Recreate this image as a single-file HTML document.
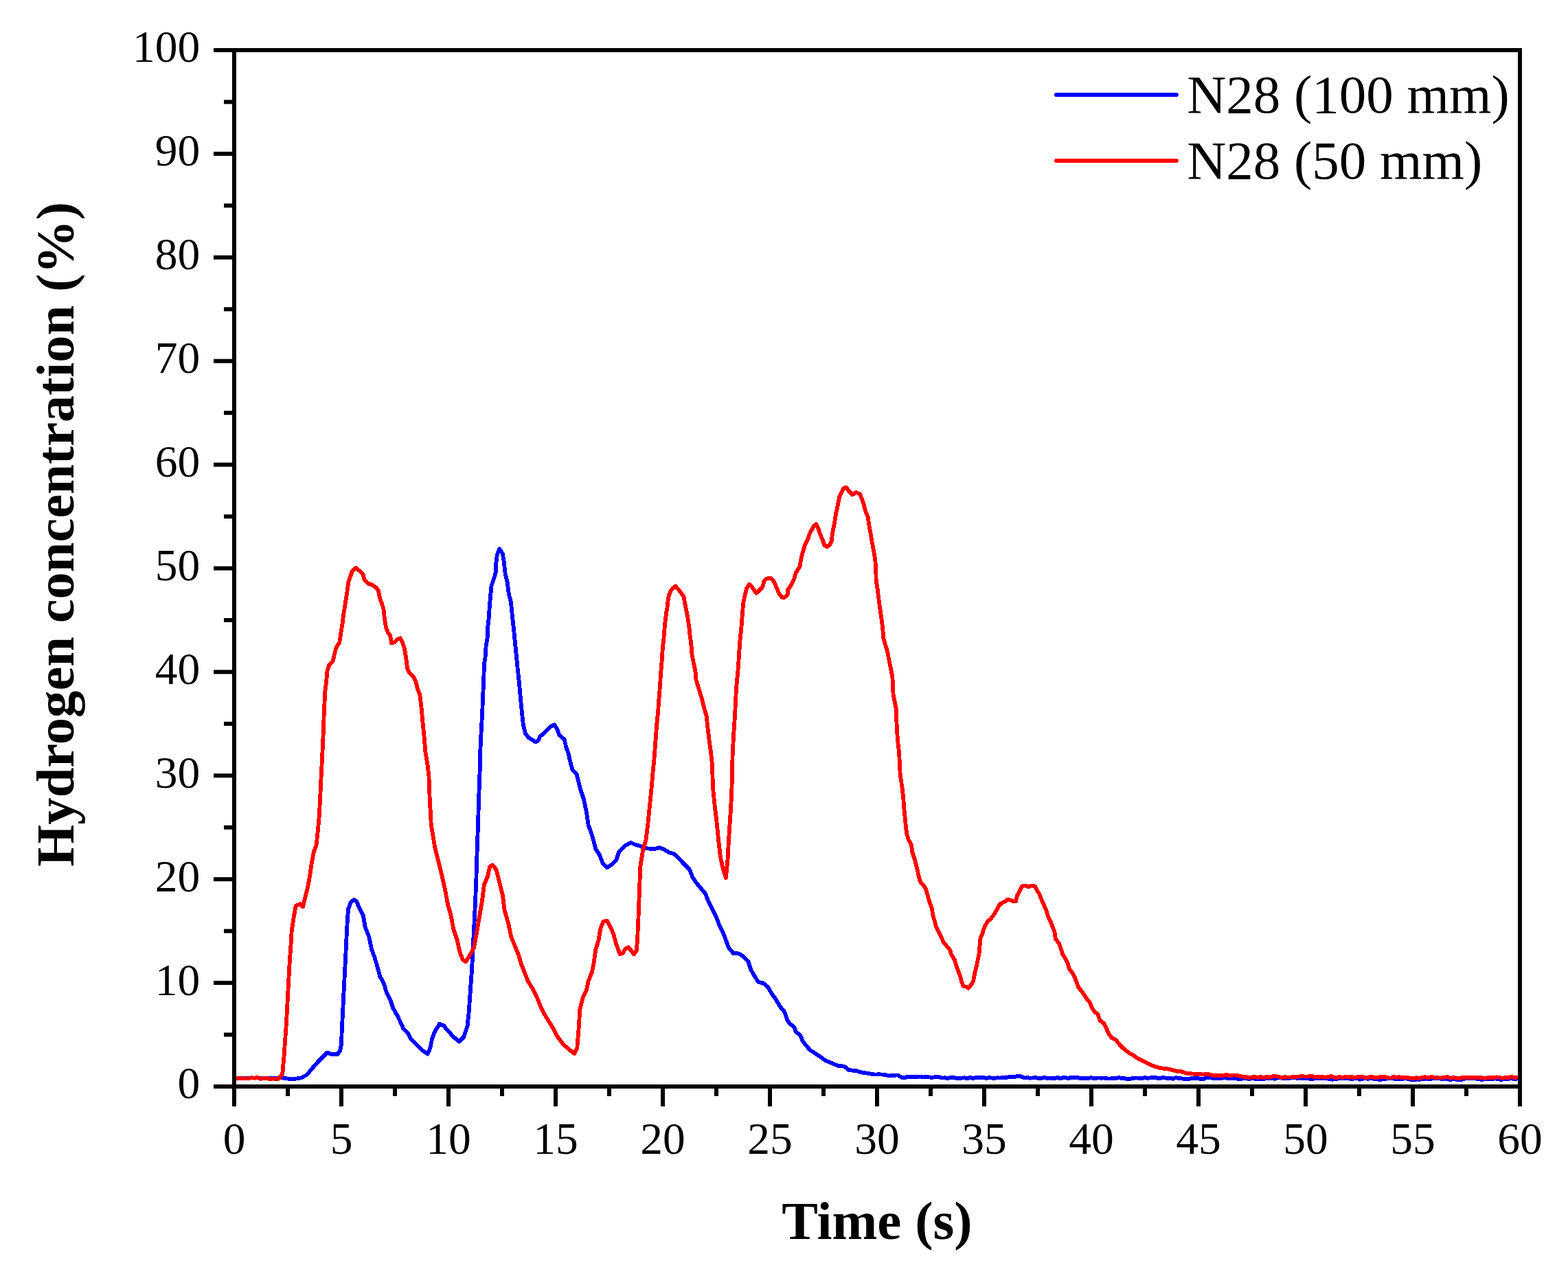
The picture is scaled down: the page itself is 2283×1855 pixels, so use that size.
<!DOCTYPE html>
<html><head><meta charset="utf-8"><title>Hydrogen concentration</title>
<style>
html,body{margin:0;padding:0;background:#fff;}
svg{display:block;}
.t{font-family:"Liberation Serif","Times New Roman",serif;font-size:65.5px;fill:#000;}
.lg{font-family:"Liberation Serif","Times New Roman",serif;font-size:79px;fill:#000;}
.ti{font-family:"Liberation Serif","Times New Roman",serif;font-weight:bold;fill:#000;}
</style></head>
<body>
<svg width="2283" height="1855" viewBox="0 0 2283 1855">
<rect width="2283" height="1855" fill="#fff"/>
<g stroke-linejoin="round" stroke-linecap="round" fill="none" stroke-width="5.8" shape-rendering="crispEdges">
<polyline stroke="#0000ff" points="340.8,1569.4 411.2,1569.4 424.7,1571.5 438.3,1569.4 446.4,1565.3 454.5,1555.8 462.6,1546.4 469.4,1539.6 476.2,1532.8 483.0,1535.0 491.1,1535.5 495.1,1530.1 497.0,1520.6 497.8,1499.0 499.2,1471.9 500.5,1444.9 501.9,1417.8 503.3,1390.7 504.6,1363.6 506.0,1336.6 507.3,1323.0 510.8,1313.6 515.4,1310.0 519.5,1312.7 522.2,1320.3 529.0,1333.9 531.7,1350.1 537.1,1363.6 541.2,1382.6 545.2,1393.4 549.3,1407.0 553.3,1421.8 558.7,1431.3 562.8,1444.9 568.2,1455.7 572.3,1467.8 577.7,1477.3 583.1,1488.2 587.2,1497.6 593.9,1504.4 598.0,1512.5 606.1,1520.6 614.2,1528.8 622.4,1534.7 626.4,1526.1 629.1,1512.5 633.2,1501.7 640.0,1490.9 646.7,1493.6 650.0,1499.0 652.2,1500.3 658.9,1508.5 668.4,1516.6 675.2,1509.8 680.6,1493.6 682.8,1471.9 684.7,1444.9 686.6,1417.8 688.2,1390.7 689.5,1363.6 690.9,1336.6 692.2,1309.5 693.3,1282.4 694.1,1255.4 695.0,1228.3 696.0,1201.2 696.8,1174.1 697.7,1147.1 698.7,1120.0 698.9,1102.6 699.9,1080.5 700.9,1060.3 702.1,1040.1 702.9,1020.0 703.7,1001.8 704.5,981.7 704.9,967.5 706.5,957.5 707.6,941.3 709.6,929.2 710.2,913.1 711.6,901.0 713.0,880.8 714.2,866.7 715.6,852.6 719.7,840.5 721.7,833.4 722.3,820.3 723.7,808.2 727.3,799.2 731.8,806.2 733.8,818.3 735.8,836.5 738.8,848.6 740.8,864.7 743.9,876.8 745.9,897.0 747.9,915.1 749.9,935.3 751.9,955.4 753.9,975.6 755.9,993.8 758.0,1018.0 760.0,1038.1 762.0,1056.3 765.0,1068.4 770.1,1074.4 775.1,1077.4 780.2,1080.5 784.2,1077.4 786.2,1072.4 793.3,1066.4 801.3,1058.3 807.4,1055.3 811.4,1062.3 814.4,1070.4 821.5,1076.4 824.5,1088.5 827.5,1096.6 830.6,1110.7 833.6,1120.8 839.6,1126.9 844.4,1147.1 849.8,1163.3 853.9,1182.3 856.6,1201.2 860.6,1212.0 864.7,1225.6 867.4,1236.4 872.8,1244.5 878.2,1258.1 883.6,1263.5 891.8,1258.1 897.2,1252.6 901.2,1240.5 910.7,1231.0 918.8,1226.9 924.2,1229.6 931.0,1231.5 940.5,1235.1 951.3,1236.4 960.0,1234.2 966.2,1236.4 974.4,1241.3 981.1,1243.2 987.9,1249.4 996.0,1258.1 1004.1,1266.2 1008.2,1277.0 1013.6,1285.1 1020.4,1293.3 1027.2,1301.4 1031.2,1312.2 1036.6,1323.0 1043.4,1336.6 1047.5,1347.4 1052.9,1358.2 1056.9,1369.0 1061.0,1379.9 1067.8,1388.0 1075.9,1388.5 1081.3,1392.1 1089.4,1400.2 1093.5,1412.4 1098.9,1421.8 1104.3,1430.0 1111.1,1431.3 1117.8,1436.7 1123.3,1446.2 1130.0,1455.7 1135.4,1465.1 1142.2,1473.3 1146.3,1485.5 1150.0,1490.5 1156.0,1495.0 1159.0,1502.5 1165.0,1507.0 1168.7,1515.9 1174.7,1523.4 1180.0,1529.4 1187.4,1533.9 1194.9,1539.2 1202.4,1544.4 1209.9,1547.4 1220.4,1551.9 1229.4,1552.6 1235.4,1557.9 1247.3,1559.4 1254.8,1561.6 1265.3,1563.1 1274.3,1564.6 1279.5,1564.2 1284.8,1564.6 1289.3,1564.8 1293.8,1566.6 1300.3,1565.9 1307.2,1565.4 1313.2,1569.1 1317.5,1569.2 1321.8,1567.6 1326.1,1568.3 1330.7,1568.4 1335.3,1568.1 1339.9,1567.5 1344.5,1568.5 1349.1,1567.5 1353.7,1568.6 1358.3,1568.7 1363.0,1568.1 1367.6,1568.4 1372.2,1569.5 1376.2,1569.3 1380.2,1570.2 1384.2,1568.7 1388.2,1568.9 1392.2,1569.8 1396.2,1570.5 1400.2,1569.7 1404.2,1569.3 1408.2,1570.5 1412.2,1568.5 1416.2,1570.3 1420.3,1569.0 1424.3,1568.7 1428.3,1568.7 1432.3,1569.1 1436.3,1570.2 1440.3,1568.8 1444.3,1569.7 1448.3,1569.8 1452.3,1569.2 1456.3,1569.6 1460.3,1568.5 1464.3,1569.5 1468.4,1568.0 1472.4,1567.8 1476.5,1568.3 1480.5,1567.2 1484.6,1566.8 1492.0,1569.5 1496.0,1569.1 1500.0,1569.7 1504.0,1569.4 1508.0,1569.1 1512.0,1570.1 1516.0,1569.9 1520.0,1568.9 1524.0,1569.7 1528.0,1569.6 1532.0,1570.3 1536.0,1570.0 1540.0,1569.0 1544.0,1570.6 1548.0,1568.7 1552.0,1569.3 1556.0,1570.1 1560.0,1568.7 1564.0,1569.5 1568.0,1568.5 1572.0,1569.9 1576.0,1570.1 1580.0,1569.7 1584.0,1570.3 1588.0,1569.1 1592.0,1569.9 1596.0,1569.7 1600.0,1569.5 1604.2,1569.7 1608.3,1569.5 1612.5,1570.4 1616.7,1570.6 1620.8,1569.7 1625.0,1570.1 1629.2,1568.8 1633.3,1570.3 1637.5,1570.2 1641.7,1571.0 1645.8,1570.7 1650.0,1570.0 1654.2,1569.5 1658.3,1569.7 1662.5,1570.4 1666.7,1568.9 1670.8,1569.9 1675.0,1569.3 1679.2,1569.2 1683.3,1569.0 1687.5,1570.6 1691.7,1569.2 1695.8,1569.4 1700.0,1570.0 1704.0,1569.8 1708.0,1570.8 1712.0,1569.1 1716.0,1569.9 1720.0,1570.2 1724.0,1570.9 1728.0,1570.8 1732.0,1570.9 1736.0,1569.6 1740.0,1569.9 1744.0,1569.8 1748.0,1571.0 1752.0,1571.2 1756.0,1569.4 1760.0,1569.5 1764.0,1569.6 1768.0,1569.6 1772.0,1570.2 1776.0,1570.4 1780.0,1569.7 1784.0,1569.2 1788.0,1570.1 1792.0,1570.0 1796.0,1570.4 1800.0,1570.3 1804.0,1571.3 1808.0,1570.7 1812.0,1570.4 1816.0,1570.6 1820.0,1570.7 1824.0,1569.4 1828.0,1571.2 1832.0,1571.0 1836.0,1571.2 1840.0,1571.0 1844.0,1570.2 1848.0,1570.2 1852.0,1569.5 1856.0,1570.7 1860.0,1569.5 1864.0,1569.5 1868.0,1569.8 1872.0,1569.7 1876.0,1570.1 1880.0,1569.5 1884.0,1569.4 1888.0,1569.7 1892.0,1569.6 1896.0,1570.2 1900.0,1570.5 1904.0,1569.5 1908.0,1571.3 1912.0,1570.8 1916.0,1569.8 1920.0,1570.0 1924.0,1570.2 1928.0,1570.3 1932.0,1569.8 1936.0,1571.4 1940.0,1571.7 1944.0,1570.6 1948.0,1570.6 1952.0,1569.7 1956.0,1569.8 1960.0,1570.3 1964.0,1570.2 1968.0,1571.4 1972.0,1570.0 1976.0,1569.7 1980.0,1571.7 1984.0,1570.8 1988.0,1570.0 1992.0,1570.9 1996.0,1569.7 2000.0,1570.8 2004.0,1570.9 2008.0,1571.9 2012.0,1571.6 2016.0,1571.3 2020.0,1570.3 2024.0,1570.6 2028.0,1570.1 2032.0,1571.5 2036.0,1570.9 2040.0,1571.5 2044.0,1570.5 2048.0,1570.3 2052.0,1571.6 2056.0,1572.0 2060.0,1571.7 2064.0,1571.6 2068.0,1571.6 2072.0,1571.5 2076.0,1570.4 2080.0,1571.0 2084.0,1570.7 2088.0,1569.9 2092.0,1569.9 2096.0,1570.5 2100.0,1571.0 2104.0,1570.5 2108.1,1571.4 2112.1,1572.0 2116.1,1570.9 2120.2,1571.9 2124.2,1572.0 2128.2,1572.0 2132.3,1570.6 2136.3,1570.3 2140.4,1570.3 2144.4,1570.3 2148.4,1570.3 2152.5,1571.2 2156.5,1571.8 2160.5,1571.6 2164.6,1570.8 2168.6,1571.2 2172.6,1571.5 2176.7,1570.0 2180.7,1571.2 2184.8,1571.8 2188.8,1571.5 2192.8,1571.4 2196.9,1570.8 2200.9,1570.1 2204.9,1571.5 2209.0,1570.4 2213.0,1570.8"/>
<polyline stroke="#ff0000" points="340.8,1570.7 345.1,1570.0 349.3,1570.6 353.6,1570.1 357.8,1570.5 362.1,1570.4 366.3,1569.1 370.6,1569.9 375.0,1568.9 379.4,1570.8 383.8,1569.7 388.2,1569.7 392.6,1571.5 397.0,1570.4 401.4,1571.3 405.8,1570.7 411.2,1564.0 413.4,1539.6 415.3,1512.5 417.2,1485.5 419.3,1444.9 421.5,1404.2 423.4,1377.2 424.7,1355.5 427.5,1336.6 430.7,1319.0 436.9,1316.3 441.0,1320.3 443.7,1309.5 447.8,1293.3 451.3,1274.3 454.0,1255.4 457.2,1239.1 460.5,1231.0 462.6,1212.0 464.8,1187.7 466.2,1160.6 467.5,1133.5 469.1,1102.6 470.6,1070.4 471.8,1038.1 473.2,1007.9 475.2,991.7 476.6,976.6 479.2,968.5 484.3,963.5 486.3,955.4 489.3,943.3 494.3,935.3 496.4,921.2 498.4,909.1 500.4,892.9 502.4,880.8 505.0,864.7 507.5,846.5 510.5,838.5 512.5,832.4 518.1,826.8 523.6,831.4 528.6,836.5 530.6,844.5 535.7,849.6 541.7,851.6 547.8,855.6 550.8,859.7 552.8,869.7 555.9,878.8 558.5,886.9 559.9,901.0 561.9,913.1 564.9,921.2 568.0,925.2 570.0,936.3 574.0,935.3 578.0,931.2 583.1,929.2 586.1,935.3 589.1,945.4 591.1,957.5 593.2,973.6 596.2,979.6 602.2,985.7 605.3,991.7 608.3,1003.8 611.3,1011.9 613.3,1028.0 615.3,1050.2 617.4,1070.4 619.4,1094.6 622.4,1112.7 624.4,1130.0 625.6,1160.6 627.8,1201.2 633.2,1233.7 642.7,1271.6 648.1,1296.0 652.2,1317.6 656.2,1331.2 660.3,1352.8 665.7,1369.0 669.2,1385.3 673.8,1397.5 677.9,1400.2 683.3,1392.1 690.1,1379.9 694.1,1358.2 698.2,1333.9 702.3,1309.5 705.0,1287.8 709.8,1277.0 713.1,1262.1 717.2,1259.4 722.6,1266.2 726.6,1282.4 732.0,1304.1 734.7,1325.7 740.2,1344.7 744.2,1363.6 749.6,1377.2 755.1,1390.7 759.1,1404.2 764.5,1417.8 768.6,1428.6 775.4,1439.4 782.1,1453.0 787.5,1466.5 793.0,1477.3 799.7,1488.2 806.5,1499.0 811.9,1509.8 820.0,1520.6 829.5,1528.8 836.3,1534.2 840.3,1526.1 842.5,1499.0 844.4,1469.2 848.4,1453.0 853.9,1442.1 856.6,1428.6 862.0,1415.1 864.7,1401.5 867.4,1382.6 871.5,1369.0 874.2,1352.8 878.2,1342.0 883.6,1340.6 887.7,1347.4 893.1,1359.6 897.2,1374.5 902.6,1389.4 906.6,1388.0 910.7,1381.2 914.8,1379.3 918.8,1383.9 922.9,1389.4 926.9,1383.9 928.3,1363.6 929.7,1331.2 931.0,1296.0 932.4,1260.8 936.4,1236.4 940.5,1222.9 943.2,1201.2 945.9,1174.1 948.6,1147.1 950.4,1126.5 952.3,1107.5 954.2,1082.1 956.1,1056.8 958.0,1037.8 959.2,1021.3 960.9,999.7 962.1,980.7 963.7,961.7 964.9,942.7 966.4,930.0 967.4,917.4 968.6,904.7 970.2,892.0 971.8,882.5 972.7,873.0 974.0,866.7 976.5,860.3 979.4,856.5 983.5,853.4 988.0,858.4 991.7,863.5 995.5,868.6 996.8,876.2 998.7,885.7 1000.6,895.2 1002.2,904.7 1003.5,914.2 1004.4,923.7 1005.7,933.2 1007.0,945.0 1007.5,953.4 1009.5,963.5 1012.5,977.6 1013.5,989.7 1016.5,999.8 1019.6,1009.9 1022.6,1020.0 1025.6,1032.1 1028.6,1042.2 1030.7,1062.3 1032.7,1078.4 1034.7,1092.6 1036.7,1110.7 1037.5,1130.0 1038.0,1147.1 1040.7,1174.1 1043.4,1195.8 1046.1,1222.9 1048.8,1247.2 1052.9,1266.2 1056.9,1278.4 1059.6,1249.9 1061.0,1222.9 1063.2,1190.4 1065.0,1160.6 1065.9,1133.5 1066.5,1102.6 1068.0,1072.4 1070.0,1042.2 1071.0,1022.0 1072.0,1001.8 1074.0,981.7 1075.0,969.6 1076.0,953.4 1077.4,933.3 1079.1,917.1 1080.7,897.0 1082.1,878.8 1084.1,868.7 1087.1,856.6 1091.2,850.6 1094.2,853.6 1098.2,859.7 1101.2,863.7 1105.3,859.7 1110.3,854.6 1112.3,846.5 1116.4,842.5 1121.4,841.5 1125.4,844.5 1128.5,850.6 1131.5,857.6 1134.5,864.7 1138.5,869.7 1142.6,869.7 1146.6,865.7 1147.2,858.6 1151.7,852.6 1155.7,844.5 1158.7,834.4 1164.8,824.4 1165.8,816.3 1168.8,804.2 1171.8,794.1 1176.9,784.0 1177.9,779.3 1181.4,772.1 1185.0,765.9 1188.2,763.2 1191.3,768.6 1193.9,777.5 1197.5,785.5 1200.2,793.6 1203.8,796.3 1208.2,793.6 1210.9,788.2 1211.8,777.5 1213.6,768.6 1215.4,759.6 1216.8,748.9 1218.9,740.0 1220.7,731.1 1222.5,722.1 1226.1,715.0 1228.8,710.5 1232.3,709.6 1235.9,715.0 1241.3,720.4 1246.6,716.8 1252.0,719.5 1254.6,725.7 1257.3,732.9 1260.0,743.6 1263.6,752.5 1265.4,765.0 1268.0,779.3 1269.8,790.0 1272.5,804.3 1274.3,815.0 1275.2,829.3 1275.7,845.4 1277.9,859.6 1279.6,873.9 1281.4,886.4 1283.2,898.9 1285.0,913.2 1286.4,929.3 1289.5,940.0 1292.1,948.9 1294.8,963.2 1297.5,975.7 1299.3,984.6 1300.2,1000.0 1300.5,1010.4 1303.2,1024.6 1305.0,1033.6 1305.4,1051.4 1306.4,1069.3 1307.7,1083.6 1309.1,1096.1 1310.0,1113.9 1310.7,1128.2 1312.1,1137.1 1313.9,1149.6 1315.4,1163.9 1316.3,1176.4 1317.5,1188.9 1318.9,1203.2 1320.2,1213.9 1322.9,1222.9 1327.0,1230.0 1328.2,1240.7 1331.8,1251.4 1334.5,1262.1 1337.1,1272.9 1339.0,1281.1 1341.8,1286.6 1345.4,1290.3 1348.2,1294.9 1351.0,1305.0 1353.7,1314.2 1356.5,1321.6 1358.3,1332.7 1361.1,1341.9 1362.9,1349.3 1367.6,1358.5 1371.2,1365.9 1374.0,1372.3 1378.6,1377.8 1383.2,1383.4 1385.1,1389.8 1389.7,1397.2 1392.4,1406.4 1395.2,1413.8 1398.0,1421.2 1399.8,1428.5 1402.6,1435.9 1407.2,1436.8 1410.0,1438.7 1414.6,1433.1 1417.3,1427.6 1419.2,1417.5 1421.9,1406.4 1423.8,1397.2 1425.6,1388.0 1426.5,1376.9 1427.5,1365.9 1430.2,1360.3 1432.1,1352.9 1434.8,1347.4 1437.6,1341.9 1442.2,1338.2 1445.9,1333.6 1448.7,1329.0 1451.4,1324.4 1454.2,1318.8 1457.9,1315.2 1462.5,1313.3 1467.1,1309.6 1471.7,1310.6 1475.4,1312.4 1479.1,1312.4 1480.9,1304.1 1484.6,1297.6 1488.3,1290.3 1492.0,1289.4 1497.5,1291.2 1502.1,1289.4 1506.7,1290.3 1509.5,1295.8 1513.2,1301.3 1515.9,1308.7 1519.6,1317.0 1523.3,1325.3 1526.1,1334.5 1529.8,1341.9 1532.5,1349.3 1535.3,1356.6 1537.1,1367.7 1541.8,1373.2 1544.5,1380.6 1547.3,1389.8 1551.0,1395.3 1554.7,1402.7 1556.5,1410.1 1562.0,1417.5 1564.8,1423.0 1567.6,1430.4 1570.3,1437.7 1574.9,1443.3 1578.6,1448.8 1582.3,1454.3 1586.9,1459.9 1589.7,1467.2 1593.4,1472.8 1598.0,1476.5 1599.0,1477.9 1601.2,1485.4 1607.2,1489.9 1611.0,1497.4 1614.0,1504.9 1618.5,1510.9 1624.4,1513.9 1630.4,1521.3 1636.4,1527.3 1643.9,1533.3 1649.9,1536.3 1655.9,1540.8 1663.4,1544.6 1667.9,1546.8 1673.9,1549.8 1681.3,1552.8 1688.8,1555.0 1700.8,1556.5 1705.3,1557.6 1709.8,1558.8 1713.8,1559.8 1717.8,1559.5 1721.8,1561.0 1725.8,1562.1 1729.8,1563.3 1733.8,1563.3 1738.3,1563.6 1742.7,1564.3 1747.2,1564.0 1752.2,1564.6 1757.2,1563.6 1762.2,1564.8 1767.2,1565.9 1772.2,1566.0 1777.2,1566.3 1781.7,1565.7 1786.2,1564.9 1790.6,1566.6 1795.1,1565.6 1799.6,1565.5 1804.1,1566.6 1808.6,1567.5 1813.1,1567.8 1817.6,1568.8 1822.1,1568.5 1826.6,1568.1 1831.1,1568.9 1835.6,1568.0 1840.1,1568.9 1844.6,1567.8 1848.9,1568.7 1853.1,1567.1 1857.4,1567.3 1861.7,1567.6 1866.0,1569.3 1870.2,1568.3 1874.5,1568.5 1878.9,1568.6 1883.4,1567.7 1887.8,1568.0 1892.2,1567.5 1896.7,1567.2 1901.1,1567.6 1905.6,1567.4 1910.0,1567.0 1914.0,1568.0 1918.0,1567.6 1922.0,1568.2 1926.0,1568.2 1930.0,1568.6 1934.0,1568.0 1938.0,1567.0 1942.0,1568.6 1946.0,1568.9 1950.0,1568.0 1954.2,1568.9 1958.3,1568.2 1962.5,1568.6 1966.7,1567.5 1970.8,1568.9 1975.0,1568.4 1979.2,1567.8 1983.3,1567.4 1987.5,1569.2 1991.7,1569.5 1995.8,1567.6 2000.0,1568.5 2004.2,1569.2 2008.3,1568.4 2012.5,1567.9 2016.7,1568.2 2020.8,1569.3 2025.0,1569.6 2029.2,1567.8 2033.3,1569.1 2037.5,1567.9 2041.7,1569.4 2045.8,1568.6 2050.0,1569.0 2054.2,1569.9 2058.3,1570.1 2062.5,1569.1 2066.7,1570.2 2070.8,1568.7 2075.0,1568.2 2079.2,1569.4 2083.3,1568.2 2087.5,1568.6 2091.7,1569.0 2095.8,1569.5 2100.0,1569.3 2104.2,1568.5 2108.3,1568.2 2112.5,1570.0 2116.7,1568.8 2120.8,1570.2 2125.0,1570.0 2129.2,1568.9 2133.3,1569.0 2137.5,1569.1 2141.7,1569.4 2145.8,1569.2 2150.0,1569.0 2154.2,1569.1 2158.4,1569.3 2162.6,1570.0 2166.8,1569.0 2171.0,1568.8 2175.2,1569.5 2179.4,1568.4 2183.6,1568.6 2187.8,1570.1 2192.0,1569.0 2196.2,1569.1 2200.4,1567.9 2204.6,1568.8 2208.8,1569.2 2213.0,1569.0"/>
</g>
<rect x="341" y="73" width="1872" height="1509" fill="none" stroke="#000" stroke-width="6"/>
<line x1="311" y1="1582.00" x2="341" y2="1582.00" stroke="#000" stroke-width="6"/>
<text x="291.2" y="1599.4" text-anchor="end" class="t">0</text>
<line x1="326" y1="1506.55" x2="341" y2="1506.55" stroke="#000" stroke-width="6"/>
<line x1="311" y1="1431.10" x2="341" y2="1431.10" stroke="#000" stroke-width="6"/>
<text x="291.2" y="1448.5" text-anchor="end" class="t">10</text>
<line x1="326" y1="1355.65" x2="341" y2="1355.65" stroke="#000" stroke-width="6"/>
<line x1="311" y1="1280.20" x2="341" y2="1280.20" stroke="#000" stroke-width="6"/>
<text x="291.2" y="1297.6" text-anchor="end" class="t">20</text>
<line x1="326" y1="1204.75" x2="341" y2="1204.75" stroke="#000" stroke-width="6"/>
<line x1="311" y1="1129.30" x2="341" y2="1129.30" stroke="#000" stroke-width="6"/>
<text x="291.2" y="1146.7" text-anchor="end" class="t">30</text>
<line x1="326" y1="1053.85" x2="341" y2="1053.85" stroke="#000" stroke-width="6"/>
<line x1="311" y1="978.40" x2="341" y2="978.40" stroke="#000" stroke-width="6"/>
<text x="291.2" y="995.8" text-anchor="end" class="t">40</text>
<line x1="326" y1="902.95" x2="341" y2="902.95" stroke="#000" stroke-width="6"/>
<line x1="311" y1="827.50" x2="341" y2="827.50" stroke="#000" stroke-width="6"/>
<text x="291.2" y="844.9" text-anchor="end" class="t">50</text>
<line x1="326" y1="752.05" x2="341" y2="752.05" stroke="#000" stroke-width="6"/>
<line x1="311" y1="676.60" x2="341" y2="676.60" stroke="#000" stroke-width="6"/>
<text x="291.2" y="694.0" text-anchor="end" class="t">60</text>
<line x1="326" y1="601.15" x2="341" y2="601.15" stroke="#000" stroke-width="6"/>
<line x1="311" y1="525.70" x2="341" y2="525.70" stroke="#000" stroke-width="6"/>
<text x="291.2" y="543.1" text-anchor="end" class="t">70</text>
<line x1="326" y1="450.25" x2="341" y2="450.25" stroke="#000" stroke-width="6"/>
<line x1="311" y1="374.80" x2="341" y2="374.80" stroke="#000" stroke-width="6"/>
<text x="291.2" y="392.2" text-anchor="end" class="t">80</text>
<line x1="326" y1="299.35" x2="341" y2="299.35" stroke="#000" stroke-width="6"/>
<line x1="311" y1="223.90" x2="341" y2="223.90" stroke="#000" stroke-width="6"/>
<text x="291.2" y="241.3" text-anchor="end" class="t">90</text>
<line x1="326" y1="148.45" x2="341" y2="148.45" stroke="#000" stroke-width="6"/>
<line x1="311" y1="73.00" x2="341" y2="73.00" stroke="#000" stroke-width="6"/>
<text x="291.2" y="90.4" text-anchor="end" class="t">100</text>
<line x1="341.00" y1="1582" x2="341.00" y2="1611" stroke="#000" stroke-width="6"/>
<text x="341.0" y="1680.2" text-anchor="middle" class="t">0</text>
<line x1="419.00" y1="1582" x2="419.00" y2="1596" stroke="#000" stroke-width="6"/>
<line x1="497.00" y1="1582" x2="497.00" y2="1611" stroke="#000" stroke-width="6"/>
<text x="497.0" y="1680.2" text-anchor="middle" class="t">5</text>
<line x1="575.00" y1="1582" x2="575.00" y2="1596" stroke="#000" stroke-width="6"/>
<line x1="653.00" y1="1582" x2="653.00" y2="1611" stroke="#000" stroke-width="6"/>
<text x="653.0" y="1680.2" text-anchor="middle" class="t">10</text>
<line x1="731.00" y1="1582" x2="731.00" y2="1596" stroke="#000" stroke-width="6"/>
<line x1="809.00" y1="1582" x2="809.00" y2="1611" stroke="#000" stroke-width="6"/>
<text x="809.0" y="1680.2" text-anchor="middle" class="t">15</text>
<line x1="887.00" y1="1582" x2="887.00" y2="1596" stroke="#000" stroke-width="6"/>
<line x1="965.00" y1="1582" x2="965.00" y2="1611" stroke="#000" stroke-width="6"/>
<text x="965.0" y="1680.2" text-anchor="middle" class="t">20</text>
<line x1="1043.00" y1="1582" x2="1043.00" y2="1596" stroke="#000" stroke-width="6"/>
<line x1="1121.00" y1="1582" x2="1121.00" y2="1611" stroke="#000" stroke-width="6"/>
<text x="1121.0" y="1680.2" text-anchor="middle" class="t">25</text>
<line x1="1199.00" y1="1582" x2="1199.00" y2="1596" stroke="#000" stroke-width="6"/>
<line x1="1277.00" y1="1582" x2="1277.00" y2="1611" stroke="#000" stroke-width="6"/>
<text x="1277.0" y="1680.2" text-anchor="middle" class="t">30</text>
<line x1="1355.00" y1="1582" x2="1355.00" y2="1596" stroke="#000" stroke-width="6"/>
<line x1="1433.00" y1="1582" x2="1433.00" y2="1611" stroke="#000" stroke-width="6"/>
<text x="1433.0" y="1680.2" text-anchor="middle" class="t">35</text>
<line x1="1511.00" y1="1582" x2="1511.00" y2="1596" stroke="#000" stroke-width="6"/>
<line x1="1589.00" y1="1582" x2="1589.00" y2="1611" stroke="#000" stroke-width="6"/>
<text x="1589.0" y="1680.2" text-anchor="middle" class="t">40</text>
<line x1="1667.00" y1="1582" x2="1667.00" y2="1596" stroke="#000" stroke-width="6"/>
<line x1="1745.00" y1="1582" x2="1745.00" y2="1611" stroke="#000" stroke-width="6"/>
<text x="1745.0" y="1680.2" text-anchor="middle" class="t">45</text>
<line x1="1823.00" y1="1582" x2="1823.00" y2="1596" stroke="#000" stroke-width="6"/>
<line x1="1901.00" y1="1582" x2="1901.00" y2="1611" stroke="#000" stroke-width="6"/>
<text x="1901.0" y="1680.2" text-anchor="middle" class="t">50</text>
<line x1="1979.00" y1="1582" x2="1979.00" y2="1596" stroke="#000" stroke-width="6"/>
<line x1="2057.00" y1="1582" x2="2057.00" y2="1611" stroke="#000" stroke-width="6"/>
<text x="2057.0" y="1680.2" text-anchor="middle" class="t">55</text>
<line x1="2135.00" y1="1582" x2="2135.00" y2="1596" stroke="#000" stroke-width="6"/>
<line x1="2213.00" y1="1582" x2="2213.00" y2="1611" stroke="#000" stroke-width="6"/>
<text x="2213.0" y="1680.2" text-anchor="middle" class="t">60</text>
<line x1="1537.9" y1="137.9" x2="1712.9" y2="137.9" stroke="#0000ff" stroke-width="6" stroke-linecap="round"/>
<line x1="1537.9" y1="233.9" x2="1712.9" y2="233.9" stroke="#ff0000" stroke-width="6" stroke-linecap="round"/>
<text x="1728.2" y="164" class="lg">N28 (100 mm)</text>
<text x="1728.2" y="260" class="lg">N28 (50 mm)</text>
<text x="1138.3" y="1804" class="ti" font-size="79">Time (s)</text>
<text transform="translate(106.6,1261.8) rotate(-90)" x="0" y="0" class="ti" font-size="78.6">Hydrogen concentration (%)</text>
</svg>
</body></html>
